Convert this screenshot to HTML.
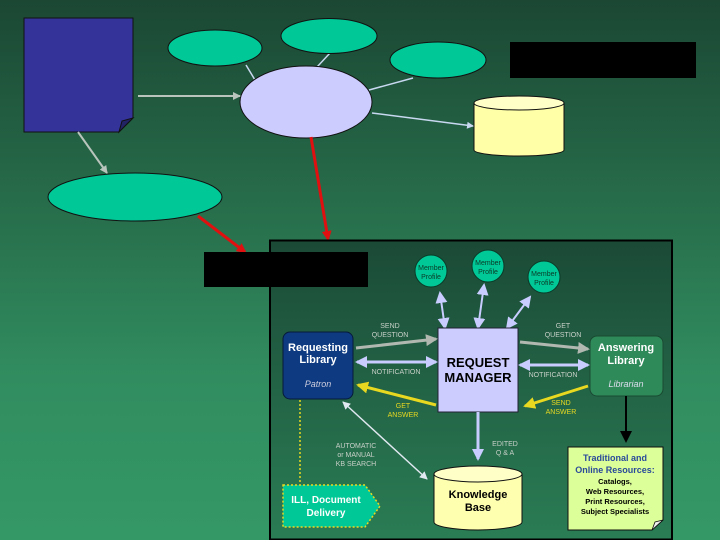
<!DOCTYPE html>
<html><head><meta charset="utf-8"><style>
html,body{margin:0;padding:0;width:720px;height:540px;overflow:hidden;background:#2a6e4c}
svg{display:block;font-family:"Liberation Sans",sans-serif}
</style></head><body>
<svg width="720" height="540" viewBox="0 0 720 540" xmlns="http://www.w3.org/2000/svg">
<defs>
<linearGradient id="bg" x1="0" y1="0" x2="0" y2="1">
<stop offset="0" stop-color="#1b4733"/><stop offset="0.7" stop-color="#318d5f"/><stop offset="1" stop-color="#349866"/></linearGradient>
<linearGradient id="pn" x1="0" y1="0" x2="0" y2="1">
<stop offset="0" stop-color="#1b4a36"/><stop offset="1" stop-color="#2a7d55"/></linearGradient>
<marker id="ag" markerWidth="8" markerHeight="8" refX="7" refY="4" orient="auto" markerUnits="userSpaceOnUse"><path d="M0,0 L8,4 L0,8z" fill="#b8c4bc"/></marker>
<marker id="al" markerWidth="7" markerHeight="7" refX="6" refY="3.5" orient="auto" markerUnits="userSpaceOnUse"><path d="M0,0 L7,3.5 L0,7z" fill="#c8d8f0"/></marker>
<marker id="ar" markerWidth="10" markerHeight="10" refX="8" refY="5" orient="auto" markerUnits="userSpaceOnUse"><path d="M0,0 L10,5 L0,10z" fill="#e01010"/></marker>
<marker id="ab" markerWidth="12" markerHeight="12" refX="10" refY="6" orient="auto" markerUnits="userSpaceOnUse"><path d="M0,0 L12,6 L0,12z" fill="#c8ccff"/></marker>
<marker id="ab2" markerWidth="12" markerHeight="12" refX="2" refY="6" orient="auto" markerUnits="userSpaceOnUse"><path d="M12,0 L0,6 L12,12z" fill="#c8ccff"/></marker>
<marker id="agg" markerWidth="12" markerHeight="12" refX="10" refY="6" orient="auto" markerUnits="userSpaceOnUse"><path d="M0,0 L12,6 L0,12z" fill="#b0b8b0"/></marker>
<marker id="ay" markerWidth="12" markerHeight="12" refX="10" refY="6" orient="auto" markerUnits="userSpaceOnUse"><path d="M0,0 L12,6 L0,12z" fill="#e8d820"/></marker>
<marker id="aw" markerWidth="8" markerHeight="8" refX="7" refY="4" orient="auto" markerUnits="userSpaceOnUse"><path d="M0,0 L8,4 L0,8z" fill="#e0e8f0"/></marker>
<marker id="aw2" markerWidth="8" markerHeight="8" refX="1" refY="4" orient="auto" markerUnits="userSpaceOnUse"><path d="M8,0 L0,4 L8,8z" fill="#e0e8f0"/></marker>
<marker id="ak" markerWidth="12" markerHeight="12" refX="10" refY="6" orient="auto" markerUnits="userSpaceOnUse"><path d="M0,0 L12,6 L0,12z" fill="#000"/></marker>
</defs>
<rect width="720" height="540" fill="url(#bg)"/>

<!-- top diagram -->
<path d="M24,18 H133 V118 L119,132 H24 Z" fill="#333399" stroke="#111" stroke-width="1"/>
<path d="M133,118 L119,132 L122,121 Z" fill="#222266" stroke="#111" stroke-width="1"/>
<line x1="246" y1="65" x2="255" y2="80" stroke="#c8d8f0" stroke-width="1.5"/>
<line x1="330" y1="53" x2="317" y2="67" stroke="#c8d8f0" stroke-width="1.5"/>
<line x1="413" y1="78" x2="369" y2="90" stroke="#c8d8f0" stroke-width="1.5"/>
<ellipse cx="215" cy="48" rx="47" ry="18" fill="#00c896" stroke="#111"/>
<ellipse cx="329" cy="36" rx="48" ry="17.5" fill="#00c896" stroke="#111"/>
<ellipse cx="438" cy="60" rx="48" ry="18" fill="#00c896" stroke="#111"/>
<ellipse cx="306" cy="102" rx="66" ry="36" fill="#ccccff" stroke="#111"/>
<rect x="510" y="42" width="186" height="36" fill="#000"/>
<path d="M474,103 V150 A45,6 0 0 0 564,150 V103" fill="#ffffa8" stroke="#111"/>
<ellipse cx="519" cy="103" rx="45" ry="7" fill="#ffffc8" stroke="#111"/>
<line x1="138" y1="96" x2="240" y2="96" stroke="#b8c4bc" stroke-width="2" marker-end="url(#ag)"/>
<line x1="78" y1="132" x2="107" y2="173" stroke="#b8c4bc" stroke-width="2" marker-end="url(#ag)"/>
<line x1="372" y1="113" x2="473" y2="126" stroke="#c8d8f0" stroke-width="1.5" marker-end="url(#al)"/>
<ellipse cx="135" cy="197" rx="87" ry="24" fill="#00c896" stroke="#111"/>
<line x1="198" y1="216" x2="245" y2="252" stroke="#e01010" stroke-width="3" marker-end="url(#ar)"/>
<line x1="311" y1="137" x2="328" y2="239" stroke="#e01010" stroke-width="3" marker-end="url(#ar)"/>

<!-- panel -->
<rect x="270" y="240.5" width="402" height="299" fill="url(#pn)" stroke="#000" stroke-width="2"/>
<rect x="204" y="252" width="164" height="35" fill="#000"/>

<!-- member profiles -->
<g fill="#00c896" stroke="#0a3a28"><circle cx="431" cy="271" r="16"/><circle cx="488" cy="266" r="16"/><circle cx="544" cy="277" r="16"/></g>
<g font-size="7" fill="#0a3a28" text-anchor="middle">
<text x="431" y="270">Member</text><text x="431" y="279">Profile</text>
<text x="488" y="265">Member</text><text x="488" y="274">Profile</text>
<text x="544" y="276">Member</text><text x="544" y="285">Profile</text></g>
<g stroke="#c8ccff" stroke-width="2">
<line x1="445" y1="328" x2="440" y2="293" marker-start="url(#ab2)" marker-end="url(#ab)"/>
<line x1="478" y1="328" x2="484" y2="285" marker-start="url(#ab2)" marker-end="url(#ab)"/>
<line x1="507" y1="328" x2="530" y2="297" marker-start="url(#ab2)" marker-end="url(#ab)"/>
</g>

<!-- boxes -->
<rect x="283" y="332" width="70" height="67" rx="7" fill="#0d3a80" stroke="#061a3a"/>
<text x="318" y="351" font-size="11" font-weight="bold" fill="#fff" text-anchor="middle">Requesting</text>
<text x="318" y="363" font-size="11" font-weight="bold" fill="#fff" text-anchor="middle">Library</text>
<text x="318" y="387" font-size="9" font-style="italic" fill="#ccd" text-anchor="middle">Patron</text>
<rect x="438" y="328" width="80" height="84" fill="#ccccff" stroke="#223"/>
<text x="478" y="367" font-size="13" font-weight="bold" fill="#000" text-anchor="middle">REQUEST</text>
<text x="478" y="382" font-size="13" font-weight="bold" fill="#000" text-anchor="middle">MANAGER</text>
<rect x="590" y="336" width="73" height="60" rx="7" fill="#2f8a5a" stroke="#1a4a32"/>
<text x="626" y="351" font-size="11" font-weight="bold" fill="#fff" text-anchor="middle">Answering</text>
<text x="626" y="364" font-size="11" font-weight="bold" fill="#fff" text-anchor="middle">Library</text>
<text x="626" y="387" font-size="9" font-style="italic" fill="#dde" text-anchor="middle">Librarian</text>

<!-- flow arrows -->
<line x1="356" y1="348" x2="436" y2="339" stroke="#b0b8b0" stroke-width="3" marker-end="url(#agg)"/>
<line x1="520" y1="342" x2="588" y2="349" stroke="#b0b8b0" stroke-width="3" marker-end="url(#agg)"/>
<line x1="357" y1="362" x2="436" y2="362" stroke="#c8ccff" stroke-width="3" marker-start="url(#ab2)" marker-end="url(#ab)"/>
<line x1="520" y1="365" x2="588" y2="365" stroke="#c8ccff" stroke-width="3" marker-start="url(#ab2)" marker-end="url(#ab)"/>
<line x1="436" y1="405" x2="358" y2="385" stroke="#e8d820" stroke-width="3" marker-end="url(#ay)"/>
<line x1="588" y1="386" x2="525" y2="406" stroke="#e8d820" stroke-width="3" marker-end="url(#ay)"/>
<line x1="478" y1="412" x2="478" y2="459" stroke="#c8ccff" stroke-width="3" marker-end="url(#ab)"/>
<line x1="343" y1="402" x2="427" y2="479" stroke="#e0e8f0" stroke-width="1.5" marker-start="url(#aw2)" marker-end="url(#aw)"/>
<line x1="626" y1="396" x2="626" y2="441" stroke="#000" stroke-width="2" marker-end="url(#ak)"/>
<line x1="300" y1="400" x2="300" y2="483" stroke="#e8d820" stroke-width="1.5" stroke-dasharray="2,2"/>

<g font-size="7" fill="#c8d0c8" text-anchor="middle">
<text x="390" y="328">SEND</text><text x="390" y="337">QUESTION</text>
<text x="563" y="328">GET</text><text x="563" y="337">QUESTION</text>
<text x="396" y="374">NOTIFICATION</text>
<text x="553" y="377">NOTIFICATION</text>
<text x="356" y="448">AUTOMATIC</text><text x="356" y="457">or MANUAL</text><text x="356" y="466">KB SEARCH</text>
<text x="505" y="446">EDITED</text><text x="505" y="455">Q &amp; A</text>
</g>
<g font-size="7" fill="#e8d820" text-anchor="middle">
<text x="403" y="408">GET</text><text x="403" y="417">ANSWER</text>
<text x="561" y="405">SEND</text><text x="561" y="414">ANSWER</text></g>

<!-- knowledge base -->
<path d="M434,474 V522 A44,8 0 0 0 522,522 V474" fill="#ffffb0" stroke="#111"/>
<ellipse cx="478" cy="474" rx="44" ry="8" fill="#ffffc8" stroke="#111"/>
<text x="478" y="498" font-size="11" font-weight="bold" fill="#000" text-anchor="middle">Knowledge</text>
<text x="478" y="511" font-size="11" font-weight="bold" fill="#000" text-anchor="middle">Base</text>

<!-- ILL -->
<path d="M283,485 H365 L380,506 L365,527 H283 Z" fill="#00c896" stroke="#e8d820" stroke-width="1.5" stroke-dasharray="2,2"/>
<text x="326" y="503" font-size="10" font-weight="bold" fill="#fff" text-anchor="middle">ILL, Document</text>
<text x="326" y="516" font-size="10" font-weight="bold" fill="#fff" text-anchor="middle">Delivery</text>

<!-- traditional -->
<path d="M568,447 H663 V520 L652,530 H568 Z" fill="#ddff99" stroke="#111"/>
<path d="M663,520 L652,530 L655,522 Z" fill="#eeeeee" stroke="#111" stroke-width="0.8"/>
<g text-anchor="middle" font-weight="bold">
<text x="615" y="461" font-size="9" fill="#2a4a9a">Traditional and</text>
<text x="615" y="473" font-size="9" fill="#2a4a9a">Online Resources:</text>
<g font-size="7.5" fill="#000"><text x="615" y="484">Catalogs,</text><text x="615" y="494">Web Resources,</text><text x="615" y="504">Print Resources,</text><text x="615" y="514">Subject Specialists</text></g>
</g>
</svg>
</body></html>
